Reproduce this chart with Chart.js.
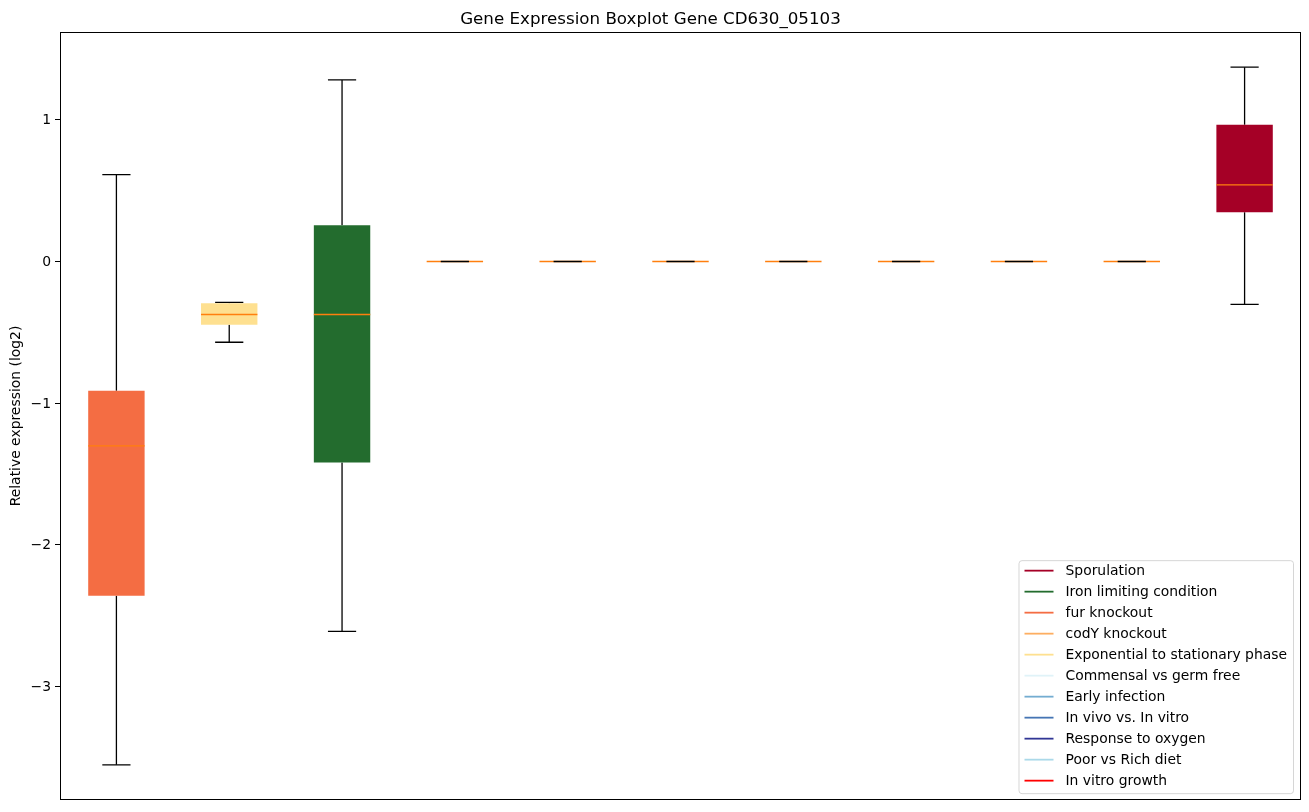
<!DOCTYPE html>
<html>
<head>
<meta charset="utf-8">
<script src="https://cdn.jsdelivr.net/npm/chart.js@4.4.1/dist/chart.umd.min.js"></script>
<style>
  body { margin: 0; background: #fff; }
  #chart { display: block; }
</style>
</head>
<body>
<canvas id="chart" width="1309" height="812"></canvas>
<script>
// box order along x (positions 1..11)
const categories = ['fur knockout', 'Exponential to stationary phase', 'Iron limiting condition',
  'codY knockout', 'Commensal vs germ free', 'Early infection', 'In vivo vs. In vitro',
  'Response to oxygen', 'Poor vs Rich diet', 'In vitro growth', 'Sporulation'];
const boxColors = ['#f46d43', '#fee090', '#236c2e', '#fdae61', '#e0f3f8', '#74add1',
  '#4575b4', '#313695', '#abd9e9', '#ff0000', '#a50026'];

// five-number summaries
const whiskerLow = [-3.552, -0.570, -2.610, 0, 0, 0, 0, 0, 0, 0, -0.303];
const q1Values   = [-2.359, -0.447, -1.419, 0, 0, 0, 0, 0, 0, 0, 0.348];
const medians    = [-1.302, -0.374, -0.374, 0, 0, 0, 0, 0, 0, 0, 0.541];
const q3Values   = [-0.912, -0.294, 0.255, 0, 0, 0, 0, 0, 0, 0, 0.965];
const whiskerHigh = [0.613, -0.289, 1.281, 0, 0, 0, 0, 0, 0, 0, 1.371];

const yTicks = [-3, -2, -1, 0, 1];

// legend (order as in the picture)
const legendLabels = ['Sporulation', 'Iron limiting condition', 'fur knockout', 'codY knockout',
  'Exponential to stationary phase', 'Commensal vs germ free', 'Early infection',
  'In vivo vs. In vitro', 'Response to oxygen', 'Poor vs Rich diet', 'In vitro growth'];
const legendColors = ['#a50026', '#236c2e', '#f46d43', '#fdae61', '#fee090', '#e0f3f8',
  '#74add1', '#4575b4', '#313695', '#abd9e9', '#ff0000'];

const FONT = 'DejaVu Sans';
const positions = categories.map((c, i) => i + 1);

// build line segments (null breaks the line)
const whiskerPts = [], capPts = [], medianPts = [];
positions.forEach((p, i) => {
  whiskerPts.push({ x: p, y: q3Values[i] }, { x: p, y: whiskerHigh[i] }, { x: p, y: null });
  whiskerPts.push({ x: p, y: q1Values[i] }, { x: p, y: whiskerLow[i] }, { x: p, y: null });
  capPts.push({ x: p - 0.125, y: whiskerHigh[i] }, { x: p + 0.125, y: whiskerHigh[i] }, { x: p, y: null });
  capPts.push({ x: p - 0.125, y: whiskerLow[i] }, { x: p + 0.125, y: whiskerLow[i] }, { x: p, y: null });
  medianPts.push({ x: p - 0.25, y: medians[i] }, { x: p + 0.25, y: medians[i] }, { x: p, y: null });
});

const yMin = Math.min(...whiskerLow), yMax = Math.max(...whiskerHigh);
const yPad = (yMax - yMin) * 0.05;

const framePlugin = {
  id: 'frame',
  afterDraw(chart) {
    const { ctx, chartArea: a } = chart;
    ctx.save();
    ctx.strokeStyle = '#000';
    ctx.lineWidth = 1;
    ctx.strokeRect(Math.round(a.left) + 0.5, Math.round(a.top) + 0.5,
      Math.round(a.right - a.left) - 1, Math.round(a.bottom - a.top));
    ctx.restore();
  }
};

const legendPlugin = {
  id: 'boxLegend',
  afterDraw(chart) {
    const { ctx, chartArea: a } = chart;
    ctx.save();
    ctx.font = '13.9px "' + FONT + '"';
    const textW = Math.max(...legendLabels.map(t => ctx.measureText(t).width));
    const rowH = 21;
    const w = 5.5 + 29 + 12 + textW + 6.5;
    const h = 10 + rowH * (legendLabels.length - 1) + 13;
    const x = a.right - 7.5 - w;
    const y = a.bottom - 6 - h;
    ctx.fillStyle = 'rgba(255,255,255,0.8)';
    ctx.strokeStyle = 'rgba(204,204,204,0.8)';
    ctx.lineWidth = 1;
    ctx.beginPath();
    ctx.roundRect(x, y, w, h, 3);
    ctx.fill();
    ctx.stroke();
    ctx.textBaseline = 'middle';
    legendLabels.forEach((t, i) => {
      const cy = y + 10 + i * rowH;
      ctx.strokeStyle = legendColors[i];
      ctx.lineWidth = 1.8;
      ctx.beginPath();
      ctx.moveTo(x + 5.5, cy);
      ctx.lineTo(x + 34.5, cy);
      ctx.stroke();
      ctx.fillStyle = '#000';
      ctx.fillText(t, x + 46.5, cy + 1);
    });
    ctx.restore();
  }
};

new Chart(document.getElementById('chart'), {
  type: 'bar',
  data: {
    datasets: [
      {
        type: 'line',
        label: 'caps',
        data: capPts,
        borderColor: '#000',
        borderWidth: 1.3,
        pointRadius: 0,
        spanGaps: false,
        order: 0
      },
      {
        type: 'line',
        label: 'medians',
        data: medianPts,
        borderColor: '#ff7f0e',
        borderWidth: 1.3,
        pointRadius: 0,
        spanGaps: false,
        order: 1
      },
      {
        label: 'boxes',
        data: positions.map((p, i) => ({ x: p, y: [q1Values[i], q3Values[i]] })),
        backgroundColor: boxColors,
        borderWidth: 0,
        borderSkipped: false,
        categoryPercentage: 1,
        barPercentage: 0.5,
        grouped: false,
        order: 2
      },
      {
        type: 'line',
        label: 'whiskers',
        data: whiskerPts,
        borderColor: '#000',
        borderWidth: 1.3,
        pointRadius: 0,
        spanGaps: false,
        order: 3
      }
    ]
  },
  options: {
    responsive: false,
    animation: false,
    devicePixelRatio: 1,
    layout: { padding: { left: 0, right: 8, top: 0, bottom: 11 } },
    plugins: {
      legend: { display: false },
      tooltip: { enabled: false },
      title: {
        display: true,
        text: 'Gene Expression Boxplot Gene CD630_05103',
        color: '#000',
        font: { family: FONT, size: 16.7, weight: 'normal' },
        padding: { top: 10, bottom: 2.3 }
      }
    },
    scales: {
      x: {
        type: 'linear',
        min: 0.5,
        max: 11.5,
        offset: false,
        display: false
      },
      y: {
        min: yMin - yPad,
        max: yMax + yPad,
        afterBuildTicks(scale) { scale.ticks = yTicks.map(v => ({ value: v })); },
        afterFit(scale) { scale.width = 60; },
        border: { display: false },
        grid: { drawOnChartArea: false, drawTicks: true, tickLength: 5, color: '#000', lineWidth: 1 },
        ticks: {
          color: '#000',
          padding: 4,
          labelOffset: 1,
          font: { family: FONT, size: 13.9 },
          callback: v => (v < 0 ? '\u2212' + Math.abs(v) : String(v))
        },
        title: {
          display: true,
          text: 'Relative expression (log2)',
          color: '#000',
          font: { family: FONT, size: 13.9 },
          padding: { top: 8, bottom: 0 }
        }
      }
    }
  },
  plugins: [framePlugin, legendPlugin]
});
</script>
</body>
</html>
